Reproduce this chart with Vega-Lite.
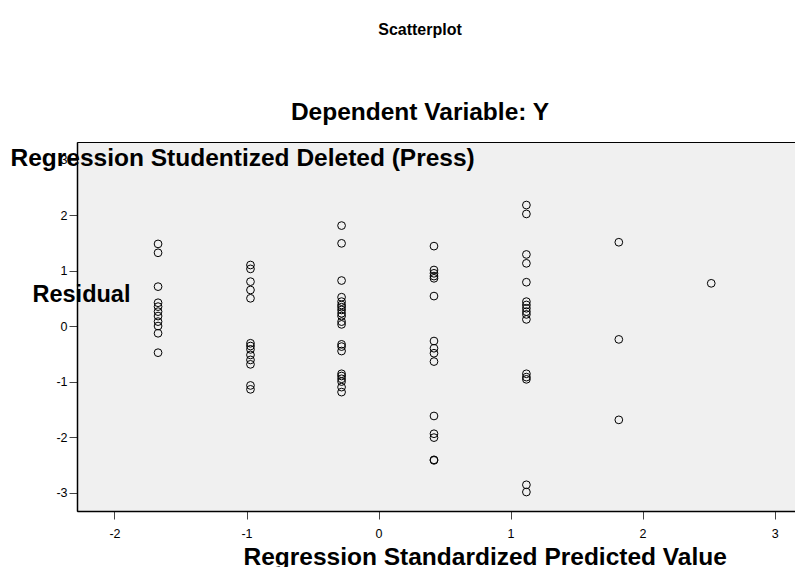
{
  "$schema": "https://vega.github.io/schema/vega-lite/v6.json",
  "background": "white",
  "padding": {"left": 10, "top": 21, "right": 0, "bottom": 0},
  "autosize": {"type": "pad"},
  "width": 724,
  "height": 369,
  "title": {
    "text": "Scatterplot",
    "subtitle": "Dependent Variable: Y",
    "anchor": "middle",
    "dx": -19,
    "font": "Liberation Sans",
    "fontSize": 16,
    "fontWeight": "bold",
    "color": "#000",
    "subtitleFont": "Liberation Sans",
    "subtitleFontSize": 24.5,
    "subtitleFontWeight": "bold",
    "subtitleColor": "#000",
    "subtitlePadding": 63,
    "offset": 18
  },
  "data": {
    "values": [
      {"x": -1.67, "y": 1.48}, {"x": -1.67, "y": 1.32}, {"x": -1.67, "y": 0.71}, {"x": -1.67, "y": 0.42},
      {"x": -1.67, "y": 0.35}, {"x": -1.67, "y": 0.26}, {"x": -1.67, "y": 0.18}, {"x": -1.67, "y": 0.08},
      {"x": -1.67, "y": 0.0}, {"x": -1.67, "y": -0.13}, {"x": -1.67, "y": -0.48},
      {"x": -0.97, "y": 1.10}, {"x": -0.97, "y": 1.03}, {"x": -0.97, "y": 0.80}, {"x": -0.97, "y": 0.65},
      {"x": -0.97, "y": 0.50}, {"x": -0.97, "y": -0.31}, {"x": -0.97, "y": -0.36}, {"x": -0.97, "y": -0.42},
      {"x": -0.97, "y": -0.52}, {"x": -0.97, "y": -0.61}, {"x": -0.97, "y": -0.69}, {"x": -0.97, "y": -1.07},
      {"x": -0.97, "y": -1.14},
      {"x": -0.28, "y": 1.81}, {"x": -0.28, "y": 1.49}, {"x": -0.28, "y": 0.82}, {"x": -0.28, "y": 0.52},
      {"x": -0.28, "y": 0.44}, {"x": -0.28, "y": 0.38}, {"x": -0.28, "y": 0.34}, {"x": -0.28, "y": 0.29},
      {"x": -0.28, "y": 0.23}, {"x": -0.28, "y": 0.18}, {"x": -0.28, "y": 0.08}, {"x": -0.28, "y": 0.03},
      {"x": -0.28, "y": -0.33}, {"x": -0.28, "y": -0.37}, {"x": -0.28, "y": -0.45}, {"x": -0.28, "y": -0.86},
      {"x": -0.28, "y": -0.90}, {"x": -0.28, "y": -0.95}, {"x": -0.28, "y": -1.00}, {"x": -0.28, "y": -1.10},
      {"x": -0.28, "y": -1.19},
      {"x": 0.42, "y": 1.44}, {"x": 0.42, "y": 1.01}, {"x": 0.42, "y": 0.95}, {"x": 0.42, "y": 0.90},
      {"x": 0.42, "y": 0.86}, {"x": 0.42, "y": 0.54}, {"x": 0.42, "y": -0.27}, {"x": 0.42, "y": -0.40},
      {"x": 0.42, "y": -0.49}, {"x": 0.42, "y": -0.64}, {"x": 0.42, "y": -1.62}, {"x": 0.42, "y": -1.94},
      {"x": 0.42, "y": -2.01}, {"x": 0.42, "y": -2.41}, {"x": 0.42, "y": -2.42},
      {"x": 1.12, "y": 2.18}, {"x": 1.12, "y": 2.02}, {"x": 1.12, "y": 1.29}, {"x": 1.12, "y": 1.13},
      {"x": 1.12, "y": 0.79}, {"x": 1.12, "y": 0.44}, {"x": 1.12, "y": 0.38}, {"x": 1.12, "y": 0.32},
      {"x": 1.12, "y": 0.26}, {"x": 1.12, "y": 0.21}, {"x": 1.12, "y": 0.12}, {"x": 1.12, "y": -0.86},
      {"x": 1.12, "y": -0.92}, {"x": 1.12, "y": -0.96}, {"x": 1.12, "y": -2.86}, {"x": 1.12, "y": -2.99},
      {"x": 1.82, "y": 1.51}, {"x": 1.82, "y": -0.24}, {"x": 1.82, "y": -1.69},
      {"x": 2.52, "y": 0.77}
    ]
  },
  "layer": [
    {
      "mark": {"type": "point", "shape": "circle", "filled": false, "color": "#000", "strokeWidth": 1, "size": 60, "opacity": 1},
      "encoding": {
        "x": {
          "field": "x", "type": "quantitative",
          "scale": {"domain": [-2.284, 3.2], "nice": false, "zero": false},
          "axis": {
            "values": [-2, -1, 0, 1, 2, 3],
            "labelExpr": "datum.value + ''",
            "title": "Regression Standardized Predicted Value",
            "titleX": 166, "titleY": 53, "titleAlign": "left", "titleBaseline": "alphabetic",
            "labelPadding": 8
          }
        },
        "y": {
          "field": "y", "type": "quantitative",
          "scale": {"domain": [-3.332, 3.316], "nice": false, "zero": false},
          "axis": {
            "values": [-3, -2, -1, 0, 1, 2, 3],
            "labelExpr": "datum.value + ''",
            "title": "Regression Studentized Deleted (Press)",
            "titleAngle": 0, "titleX": -67, "titleY": 23, "titleAlign": "left", "titleBaseline": "alphabetic",
            "labelPadding": 2
          }
        }
      }
    },
    {
      "mark": {"type": "point", "shape": "circle", "filled": false, "opacity": 0},
      "encoding": {
        "x": {"field": "x", "type": "quantitative"},
        "y": {
          "field": "y", "type": "quantitative",
          "scale": {"domain": [-3.332, 3.316], "nice": false, "zero": false},
          "axis": {
            "orient": "left", "labels": false, "ticks": false, "domain": false,
            "title": "Residual",
            "titleFontSize": 23.5,
            "titleAngle": 0, "titleX": -45, "titleY": 159, "titleAlign": "left", "titleBaseline": "alphabetic"
          }
        }
      }
    }
  ],
  "resolve": {"scale": {"y": "independent"}},
  "config": {
    "font": "Liberation Sans",
    "view": {"fill": "#f0f0f0", "stroke": "#000", "strokeWidth": 1},
    "axis": {
      "grid": false,
      "domainColor": "#000",
      "domainWidth": 1.5,
      "tickColor": "#444",
      "tickSize": 8,
      "tickWidth": 1,
      "labelFont": "Liberation Sans",
      "labelFontSize": 12.5,
      "labelColor": "#000",
      "titleFont": "Liberation Sans",
      "titleFontSize": 24.5,
      "titleFontWeight": "bold",
      "titleColor": "#000"
    }
  }
}
